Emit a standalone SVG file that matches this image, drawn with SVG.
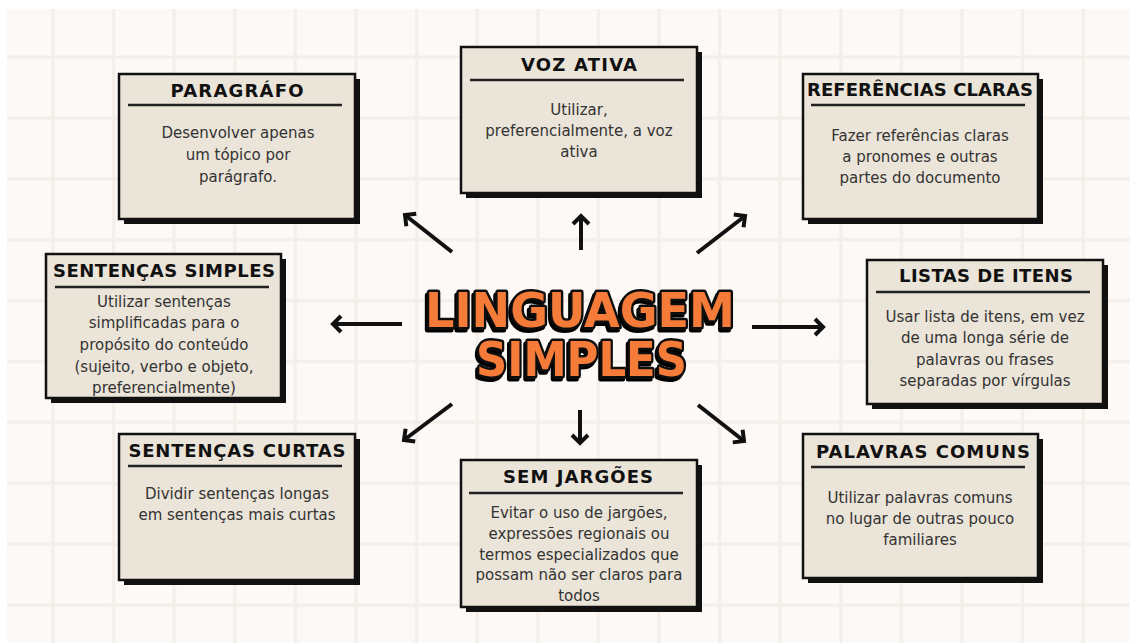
<svg xmlns="http://www.w3.org/2000/svg" width="1130" height="643" viewBox="0 0 1130 643">
<defs>
<pattern id="grid" x="53" y="57" width="60.6" height="60.9" patternUnits="userSpaceOnUse">
<rect x="-1.5" y="0" width="3" height="60.9" fill="#f4eee9"/>
<rect x="0" y="-1.5" width="60.6" height="3" fill="#f4eee9"/>
<rect x="59.1" y="0" width="3" height="60.9" fill="#f4eee9"/>
<rect x="0" y="59.4" width="60.6" height="3" fill="#f4eee9"/>
</pattern>
<marker id="head" viewBox="0 0 16 16" markerWidth="16" markerHeight="16" refX="13" refY="8" orient="auto" markerUnits="userSpaceOnUse" overflow="visible">
<path d="M5,0 L13,8 L5,16" fill="none" stroke="#111" stroke-width="4"/>
</marker>
<filter id="drop" x="-10%" y="-20%" width="120%" height="150%">
<feOffset in="SourceAlpha" dx="-2" dy="3" result="off"/>
<feMerge><feMergeNode in="off"/><feMergeNode in="SourceGraphic"/></feMerge>
</filter>
<style>
.shadow{fill:#111}
.box{fill:#ebe4d8;stroke:#111;stroke-width:2.5}
.rule{stroke:#222;stroke-width:2.5}
.title{font-family:"DejaVu Sans","Liberation Sans",sans-serif;font-weight:bold;font-size:18px;fill:#111;text-anchor:middle}
.body{font-family:"DejaVu Sans","Liberation Sans",sans-serif;font-size:15px;fill:#333;text-anchor:middle}
.arrow{stroke:#111;stroke-width:4;fill:none;marker-end:url(#head)}
.big{font-family:"DejaVu Sans","Liberation Sans",sans-serif;font-weight:bold;font-size:48px;text-anchor:middle;fill:#f47b38;stroke:#111;stroke-width:5;stroke-linejoin:round;paint-order:stroke;filter:url(#drop)}
</style>
</defs>
<rect width="1130" height="643" fill="#ffffff"/>
<rect x="7" y="9" width="1123" height="634" fill="#fdf9f6"/>
<rect x="7" y="9" width="1123" height="634" fill="url(#grid)"/>

<g id="connectors">
<line class="arrow" x1="452" y1="252" x2="405" y2="215"/>
<line class="arrow" x1="581" y1="250" x2="581" y2="216"/>
<line class="arrow" x1="697" y1="253" x2="745" y2="216"/>
<line class="arrow" x1="402" y1="324" x2="333" y2="324"/>
<line class="arrow" x1="752" y1="327" x2="823" y2="327"/>
<line class="arrow" x1="452" y1="404" x2="404" y2="440"/>
<line class="arrow" x1="580" y1="410" x2="580" y2="443"/>
<line class="arrow" x1="698" y1="405" x2="744" y2="441"/>
</g>

<g id="center-title">
<text class="big"><tspan x="580" y="327" textLength="310" lengthAdjust="spacingAndGlyphs">LINGUAGEM</tspan><tspan x="581.5" y="376" textLength="211" lengthAdjust="spacingAndGlyphs">SIMPLES</tspan></text>
</g>

<g id="paragrafo">
<rect class="shadow" x="124" y="79" width="236" height="145"/>
<rect class="box" x="119" y="74" width="236" height="145"/>
<text class="title" x="237" y="97" textLength="133">PARAGRÁFO</text>
<line class="rule" x1="128" y1="105" x2="342" y2="105"/>
<text class="body" x="238" y="138">Desenvolver apenas</text>
<text class="body" x="238" y="160">um tópico por</text>
<text class="body" x="238" y="182">parágrafo.</text>
</g>

<g id="voz-ativa">
<rect class="shadow" x="466" y="52" width="236" height="146"/>
<rect class="box" x="461" y="47" width="236" height="146"/>
<text class="title" x="579" y="71" textLength="116">VOZ ATIVA</text>
<line class="rule" x1="470" y1="80" x2="684" y2="80"/>
<text class="body" x="579" y="115">Utilizar,</text>
<text class="body" x="579" y="136">preferencialmente, a voz</text>
<text class="body" x="579" y="157">ativa</text>
</g>

<g id="referencias-claras">
<rect class="shadow" x="808" y="79" width="235" height="145"/>
<rect class="box" x="803" y="74" width="235" height="145"/>
<text class="title" x="920" y="96" textLength="226">REFERÊNCIAS CLARAS</text>
<line class="rule" x1="811" y1="105" x2="1025" y2="105"/>
<text class="body" x="920" y="141">Fazer referências claras</text>
<text class="body" x="920" y="162">a pronomes e outras</text>
<text class="body" x="920" y="183">partes do documento</text>
</g>

<g id="sentencas-simples">
<rect class="shadow" x="51" y="259" width="235" height="144"/>
<rect class="box" x="46" y="254" width="235" height="144"/>
<text class="title" x="164" y="277" textLength="222">SENTENÇAS SIMPLES</text>
<line class="rule" x1="55" y1="287" x2="269" y2="287"/>
<text class="body" x="164" y="307">Utilizar sentenças</text>
<text class="body" x="164" y="328">simplificadas para o</text>
<text class="body" x="164" y="350">propósito do conteúdo</text>
<text class="body" x="164" y="372">(sujeito, verbo e objeto,</text>
<text class="body" x="164" y="393">preferencialmente)</text>
</g>

<g id="listas-de-itens">
<rect class="shadow" x="872" y="265" width="236" height="144"/>
<rect class="box" x="867" y="260" width="236" height="144"/>
<text class="title" x="986" y="282" textLength="174">LISTAS DE ITENS</text>
<line class="rule" x1="876" y1="292" x2="1090" y2="292"/>
<text class="body" x="985" y="322">Usar lista de itens, em vez</text>
<text class="body" x="985" y="343">de uma longa série de</text>
<text class="body" x="985" y="365">palavras ou frases</text>
<text class="body" x="985" y="386">separadas por vírgulas</text>
</g>

<g id="sentencas-curtas">
<rect class="shadow" x="124" y="439" width="236" height="146"/>
<rect class="box" x="119" y="434" width="236" height="146"/>
<text class="title" x="237" y="457" textLength="217">SENTENÇAS CURTAS</text>
<line class="rule" x1="128" y1="466" x2="342" y2="466"/>
<text class="body" x="237" y="499">Dividir sentenças longas</text>
<text class="body" x="237" y="520">em sentenças mais curtas</text>
</g>

<g id="sem-jargoes">
<rect class="shadow" x="466" y="465" width="236" height="147"/>
<rect class="box" x="461" y="460" width="236" height="147"/>
<text class="title" x="578" y="483" textLength="150">SEM JARGÕES</text>
<line class="rule" x1="469" y1="493" x2="683" y2="493"/>
<text class="body" x="579" y="518">Evitar o uso de jargões,</text>
<text class="body" x="579" y="539">expressões regionais ou</text>
<text class="body" x="579" y="560">termos especializados que</text>
<text class="body" x="579" y="580">possam não ser claros para</text>
<text class="body" x="579" y="601">todos</text>
</g>

<g id="palavras-comuns">
<rect class="shadow" x="808" y="439" width="235" height="144"/>
<rect class="box" x="803" y="434" width="235" height="144"/>
<text class="title" x="923" y="458" textLength="214">PALAVRAS COMUNS</text>
<line class="rule" x1="811" y1="467" x2="1025" y2="467"/>
<text class="body" x="920" y="503">Utilizar palavras comuns</text>
<text class="body" x="920" y="524">no lugar de outras pouco</text>
<text class="body" x="920" y="545">familiares</text>
</g>
</svg>
